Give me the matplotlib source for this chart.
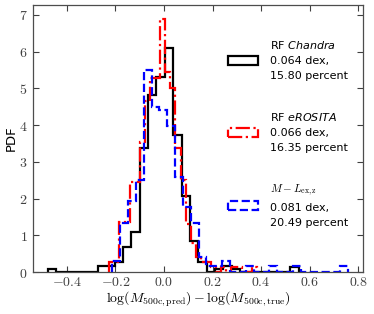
import numpy as np
import matplotlib
matplotlib.use('Agg')
import matplotlib.pyplot as plt
from matplotlib.ticker import MultipleLocator, FuncFormatter

plt.rcParams['mathtext.fontset'] = 'cm'

# Histogram data: (bin range lo, hi) and PDF height of each equal-width bin
chandra_range = (-0.48, 0.555)
chandra_pdf = [0.09, 0, 0, 0, 0, 0, 0.17, 0.17, 0.26, 0.69, 1.10, 3.38, 4.82, 5.31,
               6.11, 3.73, 2.07, 0.85, 0.28, 0, 0.09, 0.17, 0.09, 0, 0, 0, 0, 0, 0, 0.13]
erosita_range = (-0.226, 0.383)
erosita_pdf = [0.28, 0.28, 1.35, 1.35, 2.45, 2.45, 3.55, 4.65, 5.28, 5.28, 6.9, 5.45,
               5.0, 3.37, 2.5, 1.3, 0.8, 0.42, 0.28, 0.28, 0.14, 0, 0.14, 0, 0.14, 0.14,
               0, 0, 0.14]
mlex_range = (-0.213, 0.757)
mlex_pdf = [0.29, 1.33, 1.92, 2.5, 5.5, 4.5, 4.41, 3.98, 2.6, 1.78, 1.33, 0.4, 0.15,
            0.15, 0.3, 0, 0, 0.15, 0, 0, 0.15, 0, 0, 0.15, 0, 0, 0, 0, 0, 0.15]

labels = [r"RF $Chandra$" + "\n0.064 dex,\n15.80 percent",
          r"RF $eROSITA$" + "\n0.066 dex,\n16.35 percent",
          r"$M-L_{\rm ex,z}$" + "\n0.081 dex,\n20.49 percent"]
colors = ['black', 'red', 'blue']
styles = ['solid', 'dashdot', 'dashed']

fig = plt.figure(figsize=(3.74, 3.14), dpi=100)
ax = fig.add_axes([33 / 374, 42 / 314, 330 / 374, 267 / 314])

for rng, pdf, lab, c, ls in zip([chandra_range, erosita_range, mlex_range],
                                [chandra_pdf, erosita_pdf, mlex_pdf],
                                labels, colors, styles):
    edges = np.linspace(rng[0], rng[1], len(pdf) + 1)
    ax.hist(edges[:-1], bins=edges, weights=pdf, histtype='step',
            color=c, linestyle=ls, linewidth=1.6, label=lab)

ax.set_xlim(-0.54, 0.82)
ax.set_ylim(0, 7.27)
ax.xaxis.set_major_locator(MultipleLocator(0.2))
ax.yaxis.set_major_locator(MultipleLocator(1))


def xfmt(v, p):
    if abs(v) < 1e-9:
        v = 0.0
    return r'$%.1f$' % v


def yfmt(v, p):
    return r'$%d$' % round(v)


ax.xaxis.set_major_formatter(FuncFormatter(xfmt))
ax.yaxis.set_major_formatter(FuncFormatter(yfmt))
ax.tick_params(direction='in', top=True, right=True, length=4, width=0.8,
               labelsize=10, colors='0.25')
ax.tick_params(axis='x', pad=2)
ax.tick_params(axis='y', pad=4)
for s in ax.spines.values():
    s.set_color('0.3')
    s.set_linewidth(0.9)

ax.set_ylabel('PDF', fontsize=9.5, family='DejaVu Sans', labelpad=1)
ax.set_xlabel(r'$\log(M_{\rm 500c,pred}) - \log(M_{\rm 500c,true})$', fontsize=10,
              labelpad=1)

leg = ax.legend(loc='upper left', bbox_to_anchor=(0.59, 0.873), frameon=False,
                prop=dict(family='DejaVu Sans', size=8), handlelength=2.7,
                handleheight=0.9, handletextpad=1.1, labelspacing=2.65,
                borderpad=0, borderaxespad=0)
for t in leg.get_texts():
    t.set_linespacing(1.65)
for t in leg.get_texts()[:2]:
    t.set_math_fontfamily('dejavusans')

fig.savefig('out.png', dpi=100)
